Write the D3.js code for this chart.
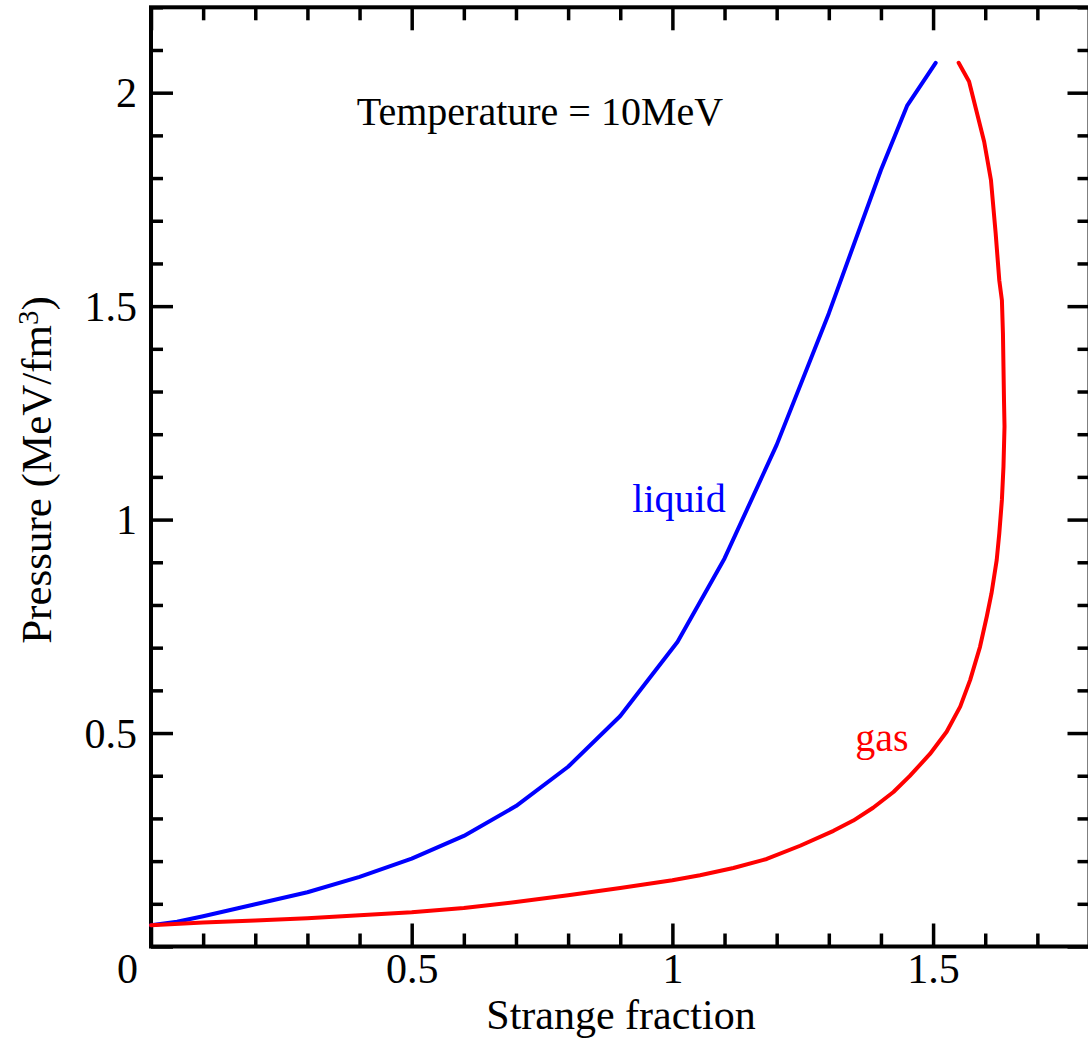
<!DOCTYPE html>
<html>
<head>
<meta charset="utf-8">
<script src="https://cdn.jsdelivr.net/npm/d3@7"></script>
<style>
  body { margin: 0; background: #fff; }
  text { font-family: "Liberation Serif", "Times New Roman", serif; }
</style>
</head>
<body>
<div id="chart"></div>
<script>
// liquid branch (blue)
const liquidX = [0.0, 0.05, 0.1, 0.15, 0.2, 0.3, 0.4, 0.5, 0.6, 0.7, 0.8, 0.9, 1.01, 1.1, 1.2, 1.3, 1.4, 1.45, 1.505];
const liquidP = [0.050, 0.058, 0.071, 0.085, 0.099, 0.127, 0.163, 0.206, 0.259, 0.329, 0.421, 0.540, 0.714, 0.909, 1.175, 1.483, 1.819, 1.969, 2.070];

// gas branch (red)
const gasX = [0.0, 0.1, 0.2, 0.3, 0.4, 0.5, 0.6, 0.7, 0.8, 0.9, 1.0, 1.053, 1.117, 1.181, 1.245, 1.309, 1.347, 1.385, 1.424, 1.455,
              1.494, 1.526, 1.552, 1.571, 1.590, 1.603, 1.612, 1.622, 1.627, 1.632, 1.635, 1.637, 1.636, 1.635, 1.634, 1.632,
              1.627, 1.620, 1.611, 1.598, 1.569, 1.549];
const gasP = [0.050, 0.056, 0.061, 0.066, 0.073, 0.080, 0.090, 0.104, 0.120, 0.137, 0.155, 0.167, 0.184, 0.205, 0.236, 0.271, 0.295, 0.325, 0.362, 0.399,
              0.451, 0.503, 0.562, 0.624, 0.702, 0.773, 0.827, 0.905, 0.968, 1.046, 1.124, 1.218, 1.280, 1.358, 1.436, 1.514,
              1.560, 1.671, 1.795, 1.885, 2.026, 2.070];

const xMajor = [0, 0.5, 1, 1.5];
const xMinor = [0.1, 0.2, 0.3, 0.4, 0.6, 0.7, 0.8, 0.9, 1.1, 1.2, 1.3, 1.4, 1.6, 1.7, 1.8];
const yMajor = [0, 0.5, 1, 1.5, 2];
const yMinor = [0.1, 0.2, 0.3, 0.4, 0.6, 0.7, 0.8, 0.9, 1.1, 1.2, 1.3, 1.4, 1.6, 1.7, 1.8, 1.9, 2.1, 2.2];

const width = 1088, height = 1043;
const plotLeft = 151, plotRight = 1089.5, plotTop = 7.3, plotBottom = 946.5;

const x = d3.scaleLinear().domain([0, 1.8]).range([plotLeft, plotRight]);
const y = d3.scaleLinear().domain([0, 2.2]).range([plotBottom, plotTop]);

const svg = d3.select("#chart")
    .append("svg")
        .attr("width", width)
        .attr("height", height);

// ticks on all four sides, pointing inwards
function ticks(axisFn, scale, values, size, pos, labels) {
    const ax = axisFn(scale)
        .tickValues(values)
        .tickSizeInner(-size)
        .tickSizeOuter(0)
        .tickPadding(labels ? 10 : 0)
        .tickFormat(labels ? d3.format("") : "");
    const g = svg.append("g")
        .attr("transform", pos)
        .call(ax);
    g.select(".domain").remove();
    g.selectAll(".tick line").attr("stroke", "#000").attr("stroke-width", 3.5);
    g.selectAll(".tick text")
        .attr("fill", "#000")
        .style("font-size", "42px");
    return g;
}

const gx = ticks(d3.axisBottom, x, xMajor, 23, `translate(0,${plotBottom})`, true);
gx.selectAll(".tick text").attr("y", 36).attr("dy", 0);
// the corner "0" sits left of the origin
gx.selectAll(".tick text").filter(d => d === 0).attr("x", -24);
ticks(d3.axisBottom, x, xMinor, 13, `translate(0,${plotBottom})`, false);
ticks(d3.axisTop, x, xMajor, 23, `translate(0,${plotTop})`, false);
ticks(d3.axisTop, x, xMinor, 13, `translate(0,${plotTop})`, false);

const gy = ticks(d3.axisLeft, y, yMajor, 22, `translate(${plotLeft},0)`, true);
gy.selectAll(".tick text").attr("x", -14).attr("dy", "0.34em");
gy.selectAll(".tick text").filter(d => d === 0).remove();
ticks(d3.axisLeft, y, yMinor, 12, `translate(${plotLeft},0)`, false);
ticks(d3.axisRight, y, yMajor, 22, `translate(${plotRight},0)`, false);
ticks(d3.axisRight, y, yMinor, 12, `translate(${plotRight},0)`, false);

// frame
svg.append("rect")
    .attr("x", plotLeft)
    .attr("y", plotTop)
    .attr("width", plotRight - plotLeft)
    .attr("height", plotBottom - plotTop)
    .attr("fill", "none")
    .attr("stroke", "#000")
    .attr("stroke-width", 4);

const line = d3.line()
    .x(d => x(d[0]))
    .y(d => y(d[1]));

svg.append("path")
    .datum(liquidX.map((v, i) => [v, liquidP[i]]))
    .attr("fill", "none")
    .attr("stroke", "#0000ff")
    .attr("stroke-width", 4)
    .attr("stroke-linecap", "round")
    .attr("stroke-linejoin", "round")
    .attr("d", line);

svg.append("path")
    .datum(gasX.map((v, i) => [v, gasP[i]]))
    .attr("fill", "none")
    .attr("stroke", "#ff0000")
    .attr("stroke-width", 4)
    .attr("stroke-linecap", "round")
    .attr("stroke-linejoin", "round")
    .attr("d", line);

// annotations
svg.append("text")
    .attr("x", 540)
    .attr("y", 125)
    .attr("text-anchor", "middle")
    .style("font-size", "40px")
    .text("Temperature = 10MeV");

svg.append("text")
    .attr("x", 679)
    .attr("y", 512)
    .attr("text-anchor", "middle")
    .attr("fill", "#0000ff")
    .style("font-size", "40px")
    .text("liquid");

svg.append("text")
    .attr("x", 882)
    .attr("y", 751)
    .attr("text-anchor", "middle")
    .attr("fill", "#ff0000")
    .style("font-size", "40px")
    .text("gas");

// x-axis label
svg.append("text")
    .attr("x", 621)
    .attr("y", 1029)
    .attr("text-anchor", "middle")
    .style("font-size", "42px")
    .text("Strange fraction");

// y-axis label
const yl = svg.append("text")
    .attr("transform", "translate(51,470) rotate(-90)")
    .attr("text-anchor", "middle")
    .style("font-size", "43px");
yl.append("tspan").text("Pressure (MeV/fm");
yl.append("tspan").attr("dy", "-0.45em").style("font-size", "29px").text("3");
yl.append("tspan").attr("dy", "0.3em").text(")");
</script>
</body>
</html>
